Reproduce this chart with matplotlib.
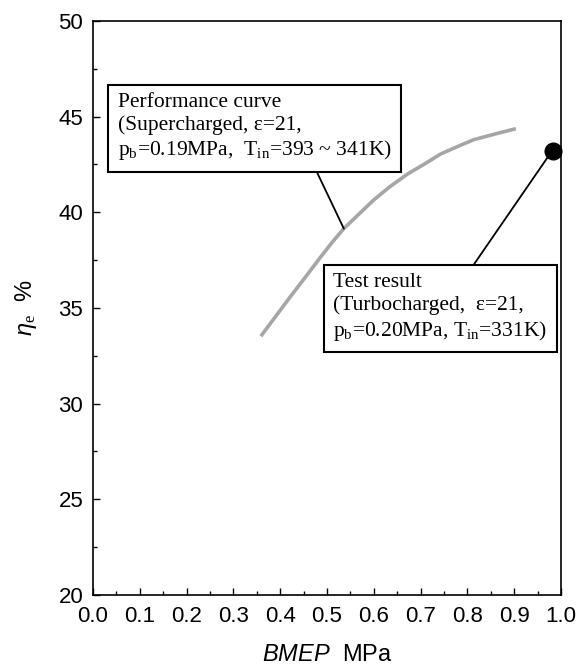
import matplotlib.pyplot as plt
from matplotlib.ticker import MultipleLocator, FormatStrFormatter

plt.rcParams['font.family'] = ['Liberation Sans', 'DejaVu Sans']
plt.rcParams['mathtext.fontset'] = 'custom'
plt.rcParams['mathtext.rm'] = 'Liberation Serif'
plt.rcParams['mathtext.it'] = 'Liberation Sans:italic'

# performance curve (supercharged)
curve_bmep = [0.361, 0.39, 0.422, 0.455, 0.486, 0.51, 0.536, 0.57, 0.600,
              0.635, 0.672, 0.71, 0.743, 0.78, 0.814, 0.86, 0.900]
curve_eta = [33.6, 34.55, 35.6, 36.65, 37.65, 38.4, 39.15, 39.95, 40.65,
             41.35, 42.0, 42.55, 43.05, 43.45, 43.8, 44.1, 44.35]

# test result (turbocharged)
test_bmep = [0.982]
test_eta = [43.2]

fig = plt.figure(figsize=(5.84, 6.71), dpi=100)
ax = fig.add_axes([0.1592, 0.1133, 0.8014, 0.8554])

ax.plot(curve_bmep, curve_eta, color='#a6a6a6', lw=2.6, zorder=2)
ax.plot(test_bmep, test_eta, 'o', color='black', ms=12, clip_on=False, zorder=4)

ax.set_xlim(0, 1.0)
ax.set_ylim(20, 50)
ax.xaxis.set_major_locator(MultipleLocator(0.1))
ax.xaxis.set_minor_locator(MultipleLocator(0.05))
ax.yaxis.set_major_locator(MultipleLocator(5))
ax.yaxis.set_minor_locator(MultipleLocator(2.5))
ax.xaxis.set_major_formatter(FormatStrFormatter('%.1f'))
ax.tick_params(which='both', direction='in', top=False, right=False, labelsize=16, width=1)
ax.tick_params(which='major', length=5)
ax.tick_params(which='minor', length=3)
ax.tick_params(axis='x', pad=8)
ax.tick_params(axis='y', pad=7)
for s in ax.spines.values():
    s.set_linewidth(1.2)

ax.set_xlabel(r"$BMEP$  MPa", fontsize=17, labelpad=12)
ax.set_ylabel(r"$\eta_\mathrm{e}$  %", fontsize=17, labelpad=14)

serif = ['Liberation Serif', 'DejaVu Serif']
box = dict(boxstyle='square,pad=0.45', fc='white', ec='black', lw=1.5)

ax.annotate("Performance curve\n(Supercharged, \u03b5=21,\n"
            r"p$_\mathrm{b}$=0.19MPa,  T$_\mathrm{in}$=393 ~ 341K)",
            xy=(0.536, 39.15), xytext=(0.053, 46.25), textcoords='data',
            fontsize=15.5, family=serif, va='top', ha='left', linespacing=1.22,
            bbox=box, zorder=5,
            arrowprops=dict(arrowstyle='-', color='black', lw=1.3,
                            shrinkA=0, shrinkB=0, relpos=(0.71, 0.0)))

ax.annotate("Test result\n(Turbocharged,  \u03b5=21,\n"
            r"p$_\mathrm{b}$=0.20MPa, T$_\mathrm{in}$=331K)",
            xy=(0.975, 43.0), xytext=(0.5135, 36.84), textcoords='data',
            fontsize=15.5, family=serif, va='top', ha='left', linespacing=1.22,
            bbox=box, zorder=5,
            arrowprops=dict(arrowstyle='-', color='black', lw=1.3,
                            shrinkA=0, shrinkB=0, relpos=(0.63, 1.0)))

fig.savefig('out.png', dpi=100)
